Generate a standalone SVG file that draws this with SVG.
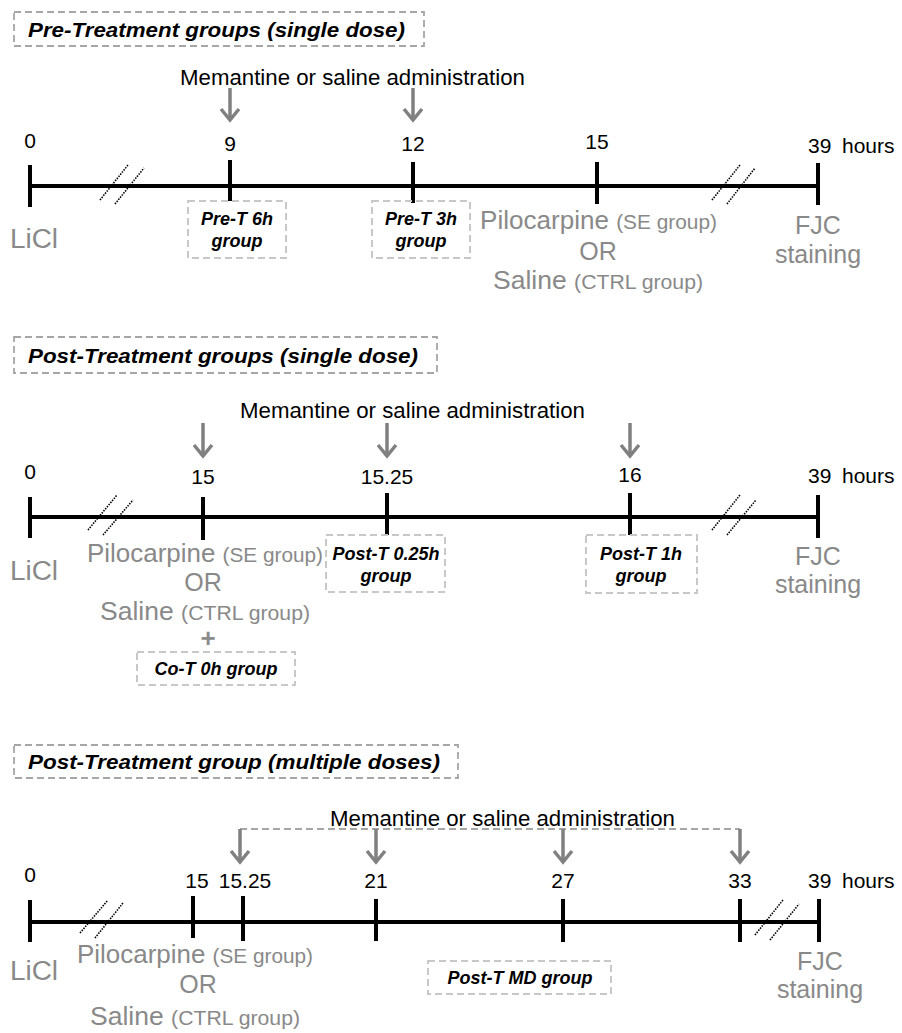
<svg xmlns="http://www.w3.org/2000/svg" width="902" height="1033" viewBox="0 0 902 1033">
<style>
text{font-family:"Liberation Sans",Arial,sans-serif}
.hd{font-size:21px;font-weight:bold;font-style:italic;fill:#000}
.hbox{fill:none;stroke:#a6a6a6;stroke-width:1.8;stroke-dasharray:7 4}
.gbox{fill:none;stroke:#c8c8c8;stroke-width:2;stroke-dasharray:7 4}
.bt{font-size:18px;font-weight:bold;font-style:italic;fill:#000;text-anchor:middle}
.num{font-size:21px;fill:#000;text-anchor:middle}
.lab{font-size:21px;fill:#000}
.mem{font-size:22px;fill:#000}
.g{fill:#898989}
.big{font-size:25px}
.sm{font-size:20px}
.lic{font-size:27px;fill:#898989}
.mid{text-anchor:middle}
.axis{stroke:#000;stroke-width:4;fill:none}
.tick{stroke:#000;stroke-width:4}
.brk{stroke:#000;stroke-width:1.6;stroke-dasharray:1.5 1.2;fill:none}
.arr{stroke:#808080;stroke-width:3.5;fill:none;marker-end:url(#chev)}
.brkt{stroke:#a6a6a6;stroke-width:1.8;stroke-dasharray:7 4;fill:none}
.plus{font-size:26px;font-weight:bold;fill:#8c8c8c;text-anchor:middle}
</style>
<defs>
<marker id="chev" markerUnits="userSpaceOnUse" viewBox="-15 -12 18 24" refX="0" refY="0" markerWidth="18" markerHeight="24" orient="auto">
<path d="M-11,-9 L0,0 L-11,9" fill="none" stroke="#808080" stroke-width="3.5"/>
</marker>
</defs>

<!-- Section 1 -->
<g id="s1-header"><rect class="hbox" x="14" y="12" width="410" height="34"/><text class="hd" x="28" y="37" textLength="377" lengthAdjust="spacingAndGlyphs">Pre-Treatment groups (single dose)</text></g>
<g id="s1-mem"><text class="mem" x="180" y="85" textLength="345" lengthAdjust="spacingAndGlyphs">Memantine or saline administration</text></g>
<g id="s1-axis">
<line class="axis" x1="30" y1="186" x2="819" y2="186"/>
<line class="tick" x1="30" y1="165" x2="30" y2="207"/>
<line class="tick" x1="230" y1="160" x2="230" y2="201"/>
<line class="tick" x1="413" y1="162" x2="413" y2="203"/>
<line class="tick" x1="597" y1="162" x2="597" y2="204"/>
<line class="tick" x1="818" y1="163" x2="818" y2="205"/>
<path class="brk" d="M100,200 L128,165 M115,204 L144,168"/>
<path class="brk" d="M712,200 L740,165 M727,204 L755,168"/>
<text class="num" x="30" y="148">0</text>
<text class="num" x="230" y="151">9</text>
<text class="num" x="413" y="151">12</text>
<text class="num" x="597" y="149">15</text>
<text class="lab" x="808" y="153">39</text>
<text class="lab" x="842" y="153">hours</text>
</g>
<g id="s1-licl"><text class="lic" x="10" y="248" textLength="48" lengthAdjust="spacingAndGlyphs">LiCl</text></g>
<g id="s1-pret6"><rect class="gbox" x="188" y="201" width="98" height="57"/><text class="bt" x="237" y="225">Pre-T 6h</text><text class="bt" x="237" y="247">group</text></g>
<g id="s1-pret3"><rect class="gbox" x="372" y="201" width="98" height="57"/><text class="bt" x="421" y="225">Pre-T 3h</text><text class="bt" x="421" y="247">group</text></g>
<g id="s1-pilo" class="g">
<text x="480" y="229" textLength="237" lengthAdjust="spacingAndGlyphs"><tspan class="big">Pilocarpine </tspan><tspan class="sm">(SE group)</tspan></text>
<text class="big mid" x="598" y="260">OR</text>
<text x="493" y="289" textLength="210" lengthAdjust="spacingAndGlyphs"><tspan class="big">Saline </tspan><tspan class="sm">(CTRL group)</tspan></text>
</g>
<g id="s1-fjc" class="g"><text class="big mid" x="818" y="234">FJC</text><text class="big mid" x="818" y="263">staining</text></g>

<!-- Section 2 -->
<g id="s2-header"><rect class="hbox" x="14" y="337" width="423" height="36"/><text class="hd" x="28" y="363" textLength="390" lengthAdjust="spacingAndGlyphs">Post-Treatment groups (single dose)</text></g>
<g id="s2-mem"><text class="mem" x="240" y="418" textLength="345" lengthAdjust="spacingAndGlyphs">Memantine or saline administration</text></g>
<g id="s2-axis">
<line class="axis" x1="30" y1="517" x2="819" y2="517"/>
<line class="tick" x1="30" y1="497" x2="30" y2="538"/>
<line class="tick" x1="203" y1="497" x2="203" y2="540"/>
<line class="tick" x1="387" y1="493" x2="387" y2="535"/>
<line class="tick" x1="630" y1="493" x2="630" y2="535"/>
<line class="tick" x1="818" y1="495" x2="818" y2="538"/>
<path class="brk" d="M88,530 L117,495 M103,535 L133,500"/>
<path class="brk" d="M712,530 L740,495 M727,535 L756,500"/>
<text class="num" x="30" y="479">0</text>
<text class="num" x="203" y="484">15</text>
<text class="num" x="387" y="484">15.25</text>
<text class="num" x="630" y="482">16</text>
<text class="lab" x="808" y="483">39</text>
<text class="lab" x="842" y="483">hours</text>
</g>
<g id="s2-licl"><text class="lic" x="10" y="580" textLength="48" lengthAdjust="spacingAndGlyphs">LiCl</text></g>
<g id="s2-pilo" class="g">
<text x="87" y="562" textLength="236" lengthAdjust="spacingAndGlyphs"><tspan class="big">Pilocarpine </tspan><tspan class="sm">(SE group)</tspan></text>
<text class="big mid" x="203" y="591">OR</text>
<text x="100" y="620" textLength="210" lengthAdjust="spacingAndGlyphs"><tspan class="big">Saline </tspan><tspan class="sm">(CTRL group)</tspan></text>
<text class="plus" x="208" y="647">+</text>
</g>
<g id="s2-cot"><rect class="gbox" x="137" y="652" width="158" height="33"/><text class="bt" x="216" y="675">Co-T 0h group</text></g>
<g id="s2-post025"><rect class="gbox" x="326" y="535" width="119" height="57"/><text class="bt" x="386" y="560">Post-T 0.25h</text><text class="bt" x="386" y="582">group</text></g>
<g id="s2-post1"><rect class="gbox" x="586" y="535" width="111" height="58"/><text class="bt" x="641" y="560">Post-T 1h</text><text class="bt" x="641" y="582">group</text></g>
<g id="s2-fjc" class="g"><text class="big mid" x="818" y="565">FJC</text><text class="big mid" x="818" y="593">staining</text></g>

<!-- Section 3 -->
<g id="s3-header"><rect class="hbox" x="14" y="745" width="444" height="33"/><text class="hd" x="28" y="769" textLength="412" lengthAdjust="spacingAndGlyphs">Post-Treatment group (multiple doses)</text></g>
<g id="s3-mem"><text class="mem" x="330" y="826" textLength="345" lengthAdjust="spacingAndGlyphs">Memantine or saline administration</text></g>
<g id="s3-axis">
<line class="axis" x1="30" y1="922" x2="819" y2="922"/>
<line class="tick" x1="30" y1="900" x2="30" y2="942"/>
<line class="tick" x1="193" y1="896" x2="193" y2="938"/>
<line class="tick" x1="243" y1="896" x2="243" y2="941"/>
<line class="tick" x1="376" y1="899" x2="376" y2="941"/>
<line class="tick" x1="563" y1="899" x2="563" y2="942"/>
<line class="tick" x1="740" y1="899" x2="740" y2="942"/>
<line class="tick" x1="819" y1="899" x2="819" y2="942"/>
<path class="brk" d="M80,933 L108,900 M95,938 L123,903"/>
<path class="brk" d="M755,935 L783,900 M770,940 L799,904"/>
<text class="num" x="30" y="882">0</text>
<text class="num" x="197" y="888">15</text>
<text class="num" x="245" y="888">15.25</text>
<text class="num" x="376" y="888">21</text>
<text class="num" x="563" y="888">27</text>
<text class="num" x="740" y="888">33</text>
<text class="lab" x="808" y="888">39</text>
<text class="lab" x="842" y="888">hours</text>
</g>
<g id="s3-licl"><text class="lic" x="10" y="980" textLength="48" lengthAdjust="spacingAndGlyphs">LiCl</text></g>
<g id="s3-pilo" class="g">
<text x="77" y="963" textLength="236" lengthAdjust="spacingAndGlyphs"><tspan class="big">Pilocarpine </tspan><tspan class="sm">(SE group)</tspan></text>
<text class="big mid" x="198" y="993">OR</text>
<text x="90" y="1025" textLength="210" lengthAdjust="spacingAndGlyphs"><tspan class="big">Saline </tspan><tspan class="sm">(CTRL group)</tspan></text>
</g>
<g id="s3-postmd"><rect class="gbox" x="428" y="961" width="183" height="33"/><text class="bt" x="520" y="984">Post-T MD group</text></g>
<g id="s3-fjc" class="g"><text class="big mid" x="820" y="970">FJC</text><text class="big mid" x="820" y="998">staining</text></g>

<!-- Connectors -->
<g id="connectors">
<path class="arr" d="M230,88 L230,120"/>
<path class="arr" d="M413,88 L413,120"/>
<path class="arr" d="M203,423 L203,456"/>
<path class="arr" d="M387,423 L387,456"/>
<path class="arr" d="M630,423 L630,456"/>
<path class="brkt" d="M240,829 L740,829"/>
<path class="arr" d="M240,829 L240,862"/>
<path class="arr" d="M376,829 L376,862"/>
<path class="arr" d="M563,829 L563,862"/>
<path class="arr" d="M740,829 L740,862"/>
</g>
</svg>
